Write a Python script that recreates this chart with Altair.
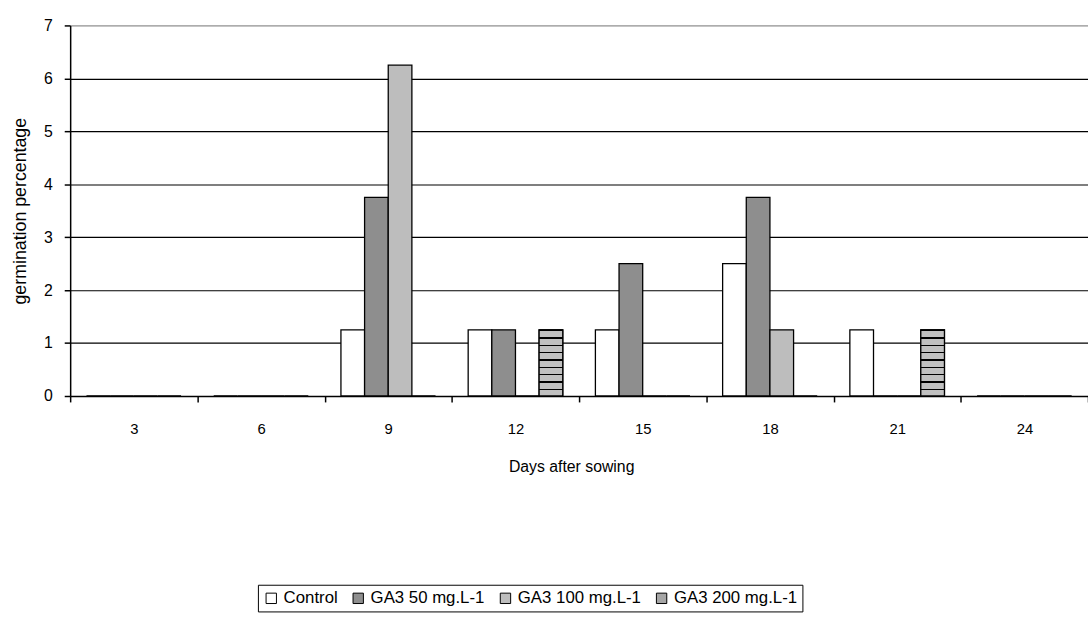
import altair as alt
import pandas as pd

days = ["3", "6", "9", "12", "15", "18", "21", "24"]
treatments = ["Control", "GA3 50 mg.L-1", "GA3 100 mg.L-1", "GA3 200 mg.L-1"]
control = [0, 0, 1.25, 1.25, 1.25, 2.5, 1.25, 0]
ga3_50 = [0, 0, 3.75, 1.25, 2.5, 3.75, 0, 0]
ga3_100 = [0, 0, 6.25, 0, 0, 1.25, 0, 0]
ga3_200 = [0, 0, 0, 1.25, 0, 0, 1.25, 0]
fills = ["#ffffff", "#8e8e8e", "#bdbdbd", "#a6a6a6"]

series = [control, ga3_50, ga3_100, ga3_200]
rows = []
for t, vals in zip(treatments, series):
    for d, v in zip(days, vals):
        rows.append({"day": d, "treatment": t, "value": v})
df = pd.DataFrame(rows)

FONT = "Liberation Sans"

# horizontal-stripe look for the GA3 200 bars (style only)
stops = []
n_stripes = 9
for i in range(n_stripes):
    a = i / n_stripes
    b = a + 0.022
    c = (i + 1) / n_stripes
    stops += [{"offset": a, "color": "black"}, {"offset": b, "color": "black"},
              {"offset": b, "color": "#c0c0c0"}, {"offset": c, "color": "#c0c0c0"}]
stripe_fill = {"gradient": "linear", "x1": 0, "y1": 0, "x2": 0, "y2": 1, "stops": stops}

x_axis = alt.Axis(title="Days after sowing", labelAngle=0, tickBand="extent",
                  tickSize=6, labelPadding=20, labelFontSize=15,
                  titleFontSize=16, titleFontWeight="normal",
                  titleX=507, titleY=71, titleBaseline="middle",
                  domainColor="black", tickColor="black", labelColor="black",
                  titleColor="black", labelFont=FONT, titleFont=FONT,
                  domainWidth=1.5, tickWidth=1.5)
y_axis = alt.Axis(title="germination percentage", values=[0, 1, 2, 3, 4, 5, 6, 7],
                  format="d",
                  tickSize=6, labelPadding=12, labelFontSize=16,
                  titleFontSize=18, titleFontWeight="normal", titlePadding=14,
                  grid=True,
                  gridColor=alt.condition("datum.value == 7", alt.value("#999999"), alt.value("black")),
                  gridWidth=1.2,
                  domainColor="black", tickColor="black", labelColor="black",
                  titleColor="black", labelFont=FONT, titleFont=FONT,
                  domainWidth=1.5, tickWidth=1.5)

x_enc = alt.X("day:N", sort=days, scale=alt.Scale(paddingInner=0, paddingOuter=0), axis=x_axis)
xoff_enc = alt.XOffset("treatment:N", sort=treatments,
                       scale=alt.Scale(domain=treatments, paddingInner=0, paddingOuter=0.69))
y_enc = alt.Y("value:Q", scale=alt.Scale(domain=[0, 7], nice=False), axis=y_axis)

bars = alt.Chart(df).mark_bar(stroke="black", strokeWidth=1.3).encode(
    x=x_enc,
    xOffset=xoff_enc,
    y=y_enc,
    fill=alt.Fill("treatment:N", sort=treatments,
                  scale=alt.Scale(domain=treatments, range=fills),
                  legend=alt.Legend(title=None, orient="none", direction="horizontal",
                                    legendX=190, legendY=566,
                                    symbolType="square", symbolSize=110,
                                    symbolStrokeColor="black", symbolStrokeWidth=1,
                                    labelFontSize=17, labelFont=FONT, labelColor="black",
                                    strokeColor="black", padding=5, columnPadding=12,
                                    symbolOffset=0, labelOffset=4)),
)

stripes = alt.Chart(df).transform_filter(
    (alt.datum.treatment == "GA3 200 mg.L-1") & (alt.datum.value > 0)
).mark_bar(stroke="black", strokeWidth=1.3, fill=stripe_fill).encode(
    x=x_enc,
    xOffset=xoff_enc,
    y=y_enc,
)

chart = alt.layer(bars, stripes).properties(width=1030, height=375).configure_view(stroke=None).configure(
    padding={"left": 71, "top": 22, "right": 0, "bottom": 228},
    autosize=alt.AutoSizeParams(type="none"),
    background="white",
)

chart.save("out.html", embed_options={"renderer": "svg", "actions": False})
